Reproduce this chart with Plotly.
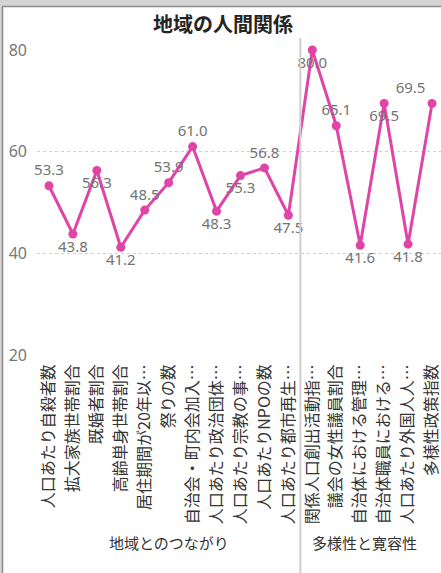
import plotly.graph_objects as go

# indicator names as shown on the axis (truncated like the source dashboard)
indicators = [
    "人口あたり自殺者数",
    "拡大家族世帯割合",
    "既婚者割合",
    "高齢単身世帯割合",
    "居住期間が20年以…",
    "祭りの数",
    "自治会・町内会加入…",
    "人口あたり政治団体…",
    "人口あたり宗教の事…",
    "人口あたりNPOの数",
    "人口あたり都市再生…",
    "関係人口創出活動指…",
    "議会の女性議員割合",
    "自治体における管理…",
    "自治体職員における…",
    "人口あたり外国人人…",
    "多様性政策指数",
]
scores = [53.3, 43.8, 56.3, 41.2, 48.5, 53.9, 61.0, 48.3, 55.3, 56.8, 47.5,
          80.0, 65.1, 41.6, 69.5, 41.8, 69.5]
groups = ["地域とのつながり", "多様性と寛容性"]
group_sizes = [11, 6]
y_ticks = [20, 40, 60, 80]

PINK = "#E044A7"
FONT = "Segoe UI, Noto Sans, Noto Sans CJK JP"
JP = "Noto Sans CJK JP"

label_pos = ["top center", "bottom center", "bottom center", "bottom center",
             "top center", "top center", "top center", "bottom center",
             "bottom center", "top center", "bottom center", "bottom center",
             "top center", "bottom center", "bottom center", "bottom center",
             "top left"]

W, H = 441, 573
L, R, T, B = 37, 0, 50, 218
pw, ph = W - L - R, H - T - B
X_MAX = 16.375


def px(x):
    return (x - L) / pw


def py(y):
    return (H - B - y) / ph


fig = go.Figure()
fig.add_trace(go.Scatter(
    x=indicators, y=scores, mode="lines+markers+text",
    line=dict(color=PINK, width=3),
    marker=dict(color=PINK, size=9),
    text=[f"{v:.1f}" for v in scores],
    textposition=label_pos,
    textfont=dict(family=FONT, size=15, color="#737373"),
    cliponaxis=False, hoverinfo="skip",
))

# group separator and group names
split = group_sizes[0] - 0.5
fig.add_shape(type="line", xref="x", yref="paper", x0=split, x1=split,
              y0=py(H), y1=py(38), line=dict(color="#cfcfcf", width=2))
start = -0.5
for name, n in zip(groups, group_sizes):
    end = min(start + n, X_MAX)
    fig.add_annotation(x=(start + end) / 2 - (0.25 if end == X_MAX else 0),
                       xref="x", y=py(555), yref="paper",
                       text=name, showarrow=False,
                       font=dict(family=JP, size=15, color="#333333"))
    start += n

# window frame
fig.add_shape(type="rect", xref="paper", yref="paper", x0=px(0), x1=px(W),
              y0=py(6), y1=py(0), fillcolor="#d4d4d4", line_width=0)
fig.add_shape(type="line", xref="paper", yref="paper", x0=px(2), x1=px(W),
              y0=py(6.5), y1=py(6.5), line=dict(color="#8a8a8a", width=1.5))
fig.add_shape(type="rect", xref="paper", yref="paper", x0=px(0), x1=px(2),
              y0=py(H), y1=py(6), fillcolor="#d4d4d4", line_width=0)
fig.add_shape(type="line", xref="paper", yref="paper", x0=px(2.5), x1=px(2.5),
              y0=py(H), y1=py(6.5), line=dict(color="#8a8a8a", width=1.5))

fig.update_layout(
    width=W, height=H,
    margin=dict(l=L, r=R, t=T, b=B, autoexpand=False),
    paper_bgcolor="white", plot_bgcolor="white",
    showlegend=False,
    title=dict(text="<b>地域の人間関係</b>", x=px(223), xanchor="center",
               xref="paper", y=1 - 25 / H, yanchor="middle",
               font=dict(family=JP, size=20, color="#252423")),
    xaxis=dict(type="category", categoryarray=indicators,
               range=[-0.5, X_MAX], showgrid=False, zeroline=False,
               showline=False, ticks="", tickangle=-90, automargin=False,
               tickfont=dict(family=JP, size=16, color="#333333"),
               ticklabelstandoff=5),
    yaxis=dict(range=[20, 80], tickvals=y_ticks, showgrid=True,
               gridcolor="#d0d0d0", griddash="dot", gridwidth=1,
               zeroline=False, showline=False, automargin=False,
               tickfont=dict(family=FONT, size=16, color="#777777"),
               ticklabelstandoff=9),
)

# the page's default 8px body margin would push the figure off the window
fig.write_html("out.html", config={"displayModeBar": False},
               post_script="document.body.style.margin='0';")
